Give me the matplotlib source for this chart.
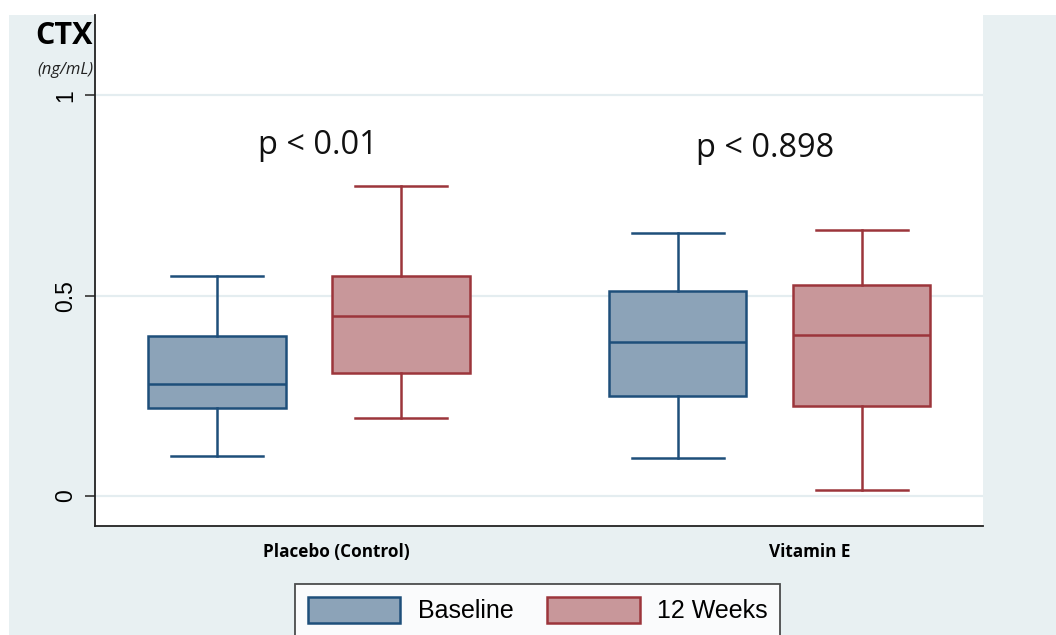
import matplotlib
matplotlib.use("Agg")
import matplotlib.pyplot as plt
from matplotlib.patches import Rectangle, Patch

# ---- data ----
groups = ["Placebo (Control)", "Vitamin E"]
series = ["Baseline", "12 Weeks"]
whislo = [0.100, 0.195, 0.095, 0.015]
q1 = [0.219, 0.307, 0.249, 0.224]
med = [0.279, 0.449, 0.384, 0.401]
q3 = [0.399, 0.549, 0.511, 0.526]
whishi = [0.549, 0.773, 0.656, 0.663]
pvals = ["p < 0.01", "p < 0.898"]
yticks = [0, 0.5, 1]
yticklabels = ["0", "0.5", "1"]

# ---- style ----
BG = "#E8F0F2"
GRID = "#E4EDF0"
fills = ["#8CA3B8", "#C8979A"]
edges = ["#1E4F7A", "#9C353B"]

positions = [0, 1, 2.505, 3.505]
group_label_x = [0.647, 3.223]
pval_x = [0.549, 2.978]
pval_y = [0.875, 0.866]

fig = plt.figure(figsize=(10.56, 6.35), dpi=100)
fig.patch.set_facecolor("white")
fig.patches.append(Rectangle((9 / 1056, 0), 1, (635 - 15) / 635,
                             transform=fig.transFigure, facecolor=BG,
                             edgecolor="none", zorder=-10))

ax = fig.add_axes([95 / 1056, (635 - 526) / 635, 888 / 1056, (526 - 15) / 635])
ax.set_facecolor("white")

stats = []
for i in range(4):
    stats.append(dict(whislo=whislo[i], q1=q1[i], med=med[i], q3=q3[i],
                      whishi=whishi[i], fliers=[]))

for i in range(4):
    s = i % 2
    ax.bxp([stats[i]], positions=[positions[i]], widths=0.745,
           capwidths=0.5, patch_artist=True, showfliers=False,
           boxprops=dict(facecolor=fills[s], edgecolor=edges[s], linewidth=1.8),
           medianprops=dict(color=edges[s], linewidth=1.8),
           whiskerprops=dict(color=edges[s], linewidth=1.8),
           capprops=dict(color=edges[s], linewidth=1.8),
           manage_ticks=False, zorder=3)

ax.set_xlim(-0.663, 4.163)
ax.set_ylim(-0.0748, 1.2)

for y in yticks:
    ax.axhline(y, color=GRID, linewidth=1.6, zorder=1)

ax.set_yticks(yticks)
ax.set_yticklabels(yticklabels, rotation=90, va="center",
                   fontfamily="Liberation Sans", fontsize=16.5)
ax.tick_params(axis="y", length=7, width=1.2, color="#333333", pad=6)

ax.set_xticks(group_label_x)
ax.set_xticklabels(groups, fontfamily="Open Sans", fontweight="bold", fontsize=12.3)
ax.tick_params(axis="x", length=0, pad=12)

for side in ["top", "right"]:
    ax.spines[side].set_visible(False)
for side in ["left", "bottom"]:
    ax.spines[side].set_color("#222222")
    ax.spines[side].set_linewidth(1.3)

for x, y, t in zip(pval_x, pval_y, pvals):
    ax.text(x, y, t, ha="center", va="center", fontfamily="Open Sans",
            fontsize=23.4, color="#111111")

fig.text(93 / 1056, 1 - 36 / 635, "CTX", ha="right", va="center",
         fontfamily="Open Sans", fontweight="bold", fontsize=22)
fig.text(93 / 1056, 1 - 70 / 635, "(ng/mL)", ha="right", va="center",
         fontfamily="Open Sans", fontstyle="italic", fontsize=12,
         color="#222222")

handles = [Patch(facecolor=fills[k], edgecolor=edges[k], linewidth=1.8)
           for k in range(2)]
leg = fig.legend(handles, series, loc="upper left",
                 bbox_to_anchor=(295 / 1056, 1 - 584 / 635),
                 ncol=2, frameon=True, fancybox=False, borderaxespad=0,
                 prop=dict(family="Liberation Sans", size=18),
                 handlelength=3.7, handleheight=1.25, handletextpad=0.7,
                 columnspacing=1.35, borderpad=0.5)
leg.get_frame().set_edgecolor("#222222")
leg.get_frame().set_linewidth(1.3)

fig.savefig("out.png", dpi=100, facecolor="white")
